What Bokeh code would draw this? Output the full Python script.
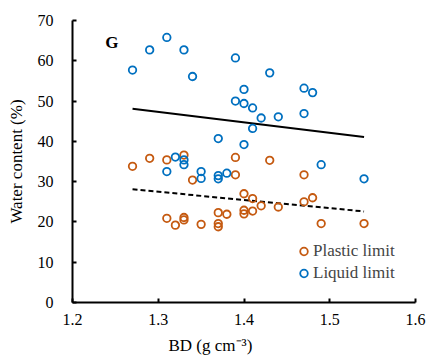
from bokeh.plotting import figure
from bokeh.models import Range1d, FixedTicker, Legend, LegendItem, Label, Title, NumeralTickFormatter
from bokeh.embed import file_html
from bokeh.resources import INLINE

# Plastic limit (orange)
plastic_bd = [1.27, 1.29, 1.31, 1.33, 1.34, 1.39, 1.39, 1.43, 1.47, 1.40, 1.41, 1.47, 1.48,
              1.31, 1.32, 1.33, 1.33, 1.35, 1.37, 1.37, 1.37, 1.38, 1.40, 1.40, 1.41, 1.42,
              1.44, 1.49, 1.54]
plastic_wc = [33.8, 35.8, 35.4, 36.6, 30.4, 36.0, 31.7, 35.3, 31.7, 27.0, 25.8, 25.0, 26.0,
              20.9, 19.2, 21.1, 20.5, 19.4, 22.3, 19.6, 18.8, 21.9, 22.9, 22.0, 22.7, 24.0,
              23.7, 19.6, 19.6]

# Liquid limit (blue)
liquid_bd = [1.27, 1.29, 1.31, 1.33, 1.34, 1.39, 1.43, 1.40, 1.47, 1.48, 1.39, 1.40, 1.41,
             1.42, 1.44, 1.47, 1.41, 1.37, 1.40, 1.49, 1.54, 1.31, 1.32, 1.33, 1.33, 1.35,
             1.35, 1.37, 1.37, 1.38]
liquid_wc = [57.7, 62.7, 65.8, 62.7, 56.1, 60.7, 57.0, 52.9, 53.2, 52.1, 50.0, 49.4, 48.3,
             45.8, 46.1, 46.9, 43.2, 40.7, 39.2, 34.2, 30.7, 32.5, 36.1, 35.4, 34.2, 32.5,
             30.8, 31.5, 30.7, 32.1]

# Trend lines (end points)
trend_bd = [1.27, 1.54]
trend_liquid = [48.1, 41.1]
trend_plastic = [28.1, 22.6]

x_ticks = [1.2, 1.3, 1.4, 1.5, 1.6]
y_ticks = [0, 10, 20, 30, 40, 50, 60, 70]

ORANGE = "#C55A11"
BLUE = "#0070C0"
SERIF = "'Liberation Serif', 'Times New Roman', serif"

p = figure(width=427, height=361, output_backend="svg", toolbar_location=None,
           x_range=Range1d(1.2, 1.6), y_range=Range1d(0, 70),
           min_border_left=72, min_border_right=12, min_border_top=20, min_border_bottom=10)
p.outline_line_color = None
p.xgrid.visible = False
p.ygrid.visible = False

p.line(trend_bd, trend_liquid, line_color="black", line_width=2)
p.line(trend_bd, trend_plastic, line_color="black", line_width=2, line_dash="5 3")

r_pl = p.scatter(plastic_bd, plastic_wc, size=7.5, marker="circle", fill_color=None,
                 line_color=ORANGE, line_width=1.8)
r_ll = p.scatter(liquid_bd, liquid_wc, size=7.5, marker="circle", fill_color=None,
                 line_color=BLUE, line_width=1.8)

for ax in (p.xaxis[0], p.yaxis[0]):
    ax.axis_line_width = 2
    ax.axis_line_color = "black"
    ax.major_tick_line_width = 2
    ax.major_tick_in = 4
    ax.major_tick_out = 0
    ax.minor_tick_line_color = None
    ax.major_label_text_font = SERIF
    ax.major_label_text_font_size = "16px"
    ax.major_label_text_color = "black"

p.xaxis.ticker = FixedTicker(ticks=x_ticks)
p.xaxis.formatter = NumeralTickFormatter(format="0.0")
p.xaxis.major_label_standoff = 11
p.yaxis.ticker = FixedTicker(ticks=y_ticks)
p.yaxis.major_label_standoff = 19

p.yaxis.axis_label = "Water content (%)"
p.yaxis.axis_label_text_font = SERIF
p.yaxis.axis_label_text_font_size = "17px"
p.yaxis.axis_label_text_font_style = "normal"
p.yaxis.axis_label_text_color = "black"
p.yaxis.axis_label_standoff = 9

xt = Title(text="BD (g cm\u207b\u00b3)", align="left", offset=96, standoff=13,
           text_font=SERIF, text_font_size="17px", text_font_style="normal",
           text_color="black")
p.add_layout(xt, "below")

p.add_layout(Label(x=1.246, y=64.6, text="G", text_font=SERIF, text_font_size="17px",
                   text_font_style="bold", text_align="center", text_baseline="middle",
                   text_color="black"))

legend = Legend(items=[LegendItem(label="Plastic limit", renderers=[r_pl]),
                       LegendItem(label="Liquid limit", renderers=[r_ll])],
                location=(222, 18), glyph_width=19, glyph_height=22, label_height=22,
                label_standoff=0, spacing=0, padding=0, margin=0,
                label_text_font=SERIF, label_text_font_size="17px",
                border_line_color=None, background_fill_alpha=0)
p.add_layout(legend)

open("out.html", "w").write(file_html(p, INLINE))
